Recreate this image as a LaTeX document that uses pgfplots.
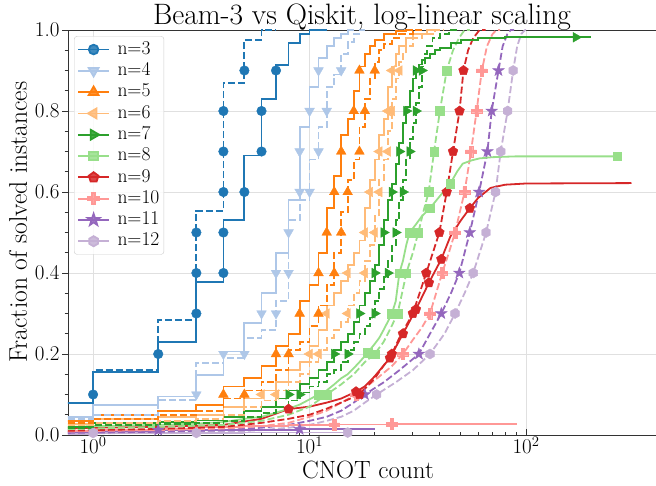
\documentclass[border=0pt]{standalone}
\usepackage{fontspec}
\usepackage{pgfplots}
\pgfplotsset{compat=1.18}
\usetikzlibrary{plotmarks}

\definecolor{c3}{HTML}{1F77B4}
\definecolor{c4}{HTML}{AEC7E8}
\definecolor{c5}{HTML}{FF7F0E}
\definecolor{c6}{HTML}{FFBB78}
\definecolor{c7}{HTML}{2CA02C}
\definecolor{c8}{HTML}{98DF8A}
\definecolor{c9}{HTML}{D62728}
\definecolor{c10}{HTML}{FF9896}
\definecolor{c11}{HTML}{9467BD}
\definecolor{c12}{HTML}{C5B0D5}

\pgfdeclareplotmark{hexa}{%
  \pgfpathmoveto{\pgfpointpolar{90}{1.05\pgfplotmarksize}}%
  \pgfpathlineto{\pgfpointpolar{150}{1.05\pgfplotmarksize}}%
  \pgfpathlineto{\pgfpointpolar{210}{1.05\pgfplotmarksize}}%
  \pgfpathlineto{\pgfpointpolar{270}{1.05\pgfplotmarksize}}%
  \pgfpathlineto{\pgfpointpolar{330}{1.05\pgfplotmarksize}}%
  \pgfpathlineto{\pgfpointpolar{30}{1.05\pgfplotmarksize}}%
  \pgfpathclose\pgfusepathqfillstroke}
\pgfdeclareplotmark{fstar}{%
  \pgfpathmoveto{\pgfpointpolar{90}{1.3\pgfplotmarksize}}%
  \pgfpathlineto{\pgfpointpolar{126}{0.52\pgfplotmarksize}}%
  \pgfpathlineto{\pgfpointpolar{162}{1.3\pgfplotmarksize}}%
  \pgfpathlineto{\pgfpointpolar{198}{0.52\pgfplotmarksize}}%
  \pgfpathlineto{\pgfpointpolar{234}{1.3\pgfplotmarksize}}%
  \pgfpathlineto{\pgfpointpolar{270}{0.52\pgfplotmarksize}}%
  \pgfpathlineto{\pgfpointpolar{306}{1.3\pgfplotmarksize}}%
  \pgfpathlineto{\pgfpointpolar{342}{0.52\pgfplotmarksize}}%
  \pgfpathlineto{\pgfpointpolar{18}{1.3\pgfplotmarksize}}%
  \pgfpathlineto{\pgfpointpolar{54}{0.52\pgfplotmarksize}}%
  \pgfpathclose\pgfusepathqfillstroke}
\pgfdeclareplotmark{fplus}{%
  \pgfpathmoveto{\pgfpoint{0.35\pgfplotmarksize}{1.1\pgfplotmarksize}}%
  \pgfpathlineto{\pgfpoint{-0.35\pgfplotmarksize}{1.1\pgfplotmarksize}}%
  \pgfpathlineto{\pgfpoint{-0.35\pgfplotmarksize}{0.35\pgfplotmarksize}}%
  \pgfpathlineto{\pgfpoint{-1.1\pgfplotmarksize}{0.35\pgfplotmarksize}}%
  \pgfpathlineto{\pgfpoint{-1.1\pgfplotmarksize}{-0.35\pgfplotmarksize}}%
  \pgfpathlineto{\pgfpoint{-0.35\pgfplotmarksize}{-0.35\pgfplotmarksize}}%
  \pgfpathlineto{\pgfpoint{-0.35\pgfplotmarksize}{-1.1\pgfplotmarksize}}%
  \pgfpathlineto{\pgfpoint{0.35\pgfplotmarksize}{-1.1\pgfplotmarksize}}%
  \pgfpathlineto{\pgfpoint{0.35\pgfplotmarksize}{-0.35\pgfplotmarksize}}%
  \pgfpathlineto{\pgfpoint{1.1\pgfplotmarksize}{-0.35\pgfplotmarksize}}%
  \pgfpathlineto{\pgfpoint{1.1\pgfplotmarksize}{0.35\pgfplotmarksize}}%
  \pgfpathlineto{\pgfpoint{0.35\pgfplotmarksize}{0.35\pgfplotmarksize}}%
  \pgfpathclose\pgfusepathqfillstroke}

\pgfplotsset{
  sol/.style={line width=1.8pt, forget plot},
  das/.style={line width=1.8pt, forget plot, dash pattern=on 7pt off 3pt},
  mk/.style={only marks, forget plot},
  m3/.style={mark=*, mark size=4.8pt},
  m4/.style={mark=triangle*, mark size=5.6pt, mark options={rotate=180}},
  m5/.style={mark=triangle*, mark size=5.6pt},
  m6/.style={mark=triangle*, mark size=5.6pt, mark options={rotate=90}},
  m7/.style={mark=triangle*, mark size=5.6pt, mark options={rotate=-90}},
  m8/.style={mark=square*, mark size=4.3pt},
  m9/.style={mark=pentagon*, mark size=5.1pt},
  m10/.style={mark=fplus, mark size=4.9pt},
  m11/.style={mark=fstar, mark size=4.7pt},
  m12/.style={mark=hexa, mark size=4.8pt},
}

\begin{document}
\begin{tikzpicture}
\begin{axis}[
  name=ax,
  scale only axis,
  width=590.1pt, height=405pt,
  xmode=log, xmin=0.766, xmax=407.4,
  ymin=0, ymax=1,
  xtick={1,10,100},
  xticklabels={10\textsuperscript{0},10\textsuperscript{1},10\textsuperscript{2}},
  ytick={0,0.2,0.4,0.6,0.8,1.0},
  minor y tick num=3,
  xtick align=inside, ytick align=outside,
  xtick pos=lower, ytick pos=left,
  major tick length=6pt, minor tick length=3.5pt,
  every tick/.style={black!80, line width=0.8pt},
  axis line style={black!80, line width=0.9pt},
  grid=major,
  major grid style={draw=black!12, line width=0.9pt},
  /pgf/number format/assume math mode=true,
  yticklabel={\pgfmathprintnumber[fixed,fixed zerofill,precision=1]{\tick}},
  tick label style={font=\fontsize{21}{24}\selectfont},
  xticklabel style={yshift=2pt},
  yticklabel style={xshift=1pt},
  legend style={at={(0.0102,0.985)}, anchor=north west, draw=black!20,
    rounded corners=3pt, fill=white, fill opacity=0.85, text opacity=1,
    font=\fontsize{19.5}{22}\selectfont, inner sep=3pt, row sep=0.8pt,
    nodes={inner sep=1.5pt, text height=13.5pt, text depth=4pt},
    /tikz/every odd column/.append style={column sep=6pt}},
  legend cell align=left,
  legend image code/.code={\draw[mark repeat=2,mark phase=2,#1] plot coordinates {(0pt,0pt)(15.5pt,0pt)(31pt,0pt)};},
]
\addlegendimage{c3, line width=1.8pt, m3}\addlegendentry{n=3}
\addlegendimage{c4, line width=1.8pt, m4}\addlegendentry{n=4}
\addlegendimage{c5, line width=1.8pt, m5}\addlegendentry{n=5}
\addlegendimage{c6, line width=1.8pt, m6}\addlegendentry{n=6}
\addlegendimage{c7, line width=1.8pt, m7}\addlegendentry{n=7}
\addlegendimage{c8, line width=1.8pt, m8}\addlegendentry{n=8}
\addlegendimage{c9, line width=1.8pt, m9}\addlegendentry{n=9}
\addlegendimage{c10, line width=1.8pt, m10}\addlegendentry{n=10}
\addlegendimage{c11, line width=1.8pt, m11}\addlegendentry{n=11}
\addlegendimage{c12, line width=1.8pt, m12}\addlegendentry{n=12}

% ---------- n = 12 ----------
\addplot[c12, sol, const plot] coordinates {(0.5,0.003)(1,0.005)(3,0.005)(5,0.006)(10,0.006)(15,0.006)};
\addplot[c12, das] coordinates {(0.5,0.003)(1,0.004)(2,0.006)(4,0.008)(6,0.012)(8,0.018)(10,0.025)(12,0.035)(14,0.045)(16,0.06)(18,0.08)(20.4,0.1)(25,0.13)(30,0.16)(36,0.2)(42,0.25)(47,0.3)(52,0.35)(57,0.4)(65.4,0.5)(72.3,0.6)(76.4,0.7)(82.2,0.8)(87.2,0.9)(91,0.96)(95,0.99)(99,1.0)(103,1.0)};
\addplot[c12, mk, m12] coordinates {(1,0.005)(3,0.005)(15,0.006)(20.4,0.1)(36,0.2)(47,0.3)(57,0.4)(65.4,0.5)(72.3,0.6)(76.4,0.7)(82.2,0.8)(87.2,0.9)};

% ---------- n = 11 ----------
\addplot[c11, sol, const plot] coordinates {(0.5,0.008)(1,0.01)(2,0.012)(5,0.013)(9,0.014)(20,0.014)};
\addplot[c11, das] coordinates {(0.5,0.004)(1,0.006)(2,0.008)(4,0.012)(6,0.018)(8,0.025)(10,0.035)(12,0.045)(14,0.06)(16,0.08)(18,0.1)(22,0.13)(26,0.16)(32,0.2)(36,0.25)(40.6,0.3)(45,0.35)(49.2,0.4)(55,0.5)(60.7,0.6)(66.3,0.7)(69.4,0.8)(74.6,0.9)(78,0.96)(82,0.99)(85,1.0)(88,1.0)};
\addplot[c11, mk, m11] coordinates {(2,0.012)(9,0.014)(18,0.1)(32,0.2)(40.6,0.3)(49.2,0.4)(55,0.5)(60.7,0.6)(66.3,0.7)(69.4,0.8)(74.6,0.9)};

% ---------- n = 10 ----------
\addplot[c10, sol, const plot] coordinates {(0.5,0.01)(1,0.012)(2,0.015)(3,0.02)(5,0.022)(8,0.025)(13,0.026)(24,0.027)(50,0.028)(90,0.029)};
\addplot[c10, das] coordinates {(0.5,0.006)(1,0.01)(2,0.012)(4,0.016)(6,0.022)(8,0.03)(10,0.045)(12,0.06)(14,0.08)(16.4,0.1)(20,0.135)(24,0.17)(27,0.2)(30,0.235)(33,0.265)(36,0.3)(41,0.4)(44,0.45)(47,0.5)(52,0.6)(55.7,0.7)(59.1,0.8)(62.5,0.9)(66,0.96)(70,0.99)(73,1.0)(76,1.0)};
\addplot[c10, mk, m10] coordinates {(13,0.026)(24,0.027)(16.4,0.1)(27,0.2)(36,0.3)(41,0.4)(47,0.5)(52,0.6)(55.7,0.7)(59.1,0.8)(62.5,0.9)};

% ---------- n = 9 ----------
\addplot[c9, sol] coordinates {(0.5,0.012)(1,0.018)(2,0.02)(4,0.025)(6,0.04)(8,0.064)(10,0.07)(12,0.08)(14,0.09)(16.4,0.107)(18,0.12)(20,0.145)(23.5,0.19)(27,0.25)(31,0.31)(35.6,0.376)(40.6,0.434)(44.7,0.49)(50,0.53)(55,0.56)(60,0.585)(68.5,0.61)(80,0.618)(100,0.621)(307,0.622)};
\addplot[c9, das] coordinates {(0.5,0.008)(1,0.012)(2,0.015)(4,0.02)(6,0.03)(8,0.04)(10,0.05)(12,0.065)(14,0.08)(17,0.1)(20,0.14)(24,0.2)(26,0.24)(30,0.3)(34.6,0.4)(39.8,0.5)(43,0.6)(46,0.7)(49.3,0.8)(51.4,0.9)(54,0.95)(57,0.98)(61,1.0)(65,1.0)};
\addplot[c9, mk, m9] coordinates {(8,0.064)(16.4,0.107)(23.5,0.19)(27,0.25)(31,0.31)(35.6,0.376)(40.6,0.434)(55,0.56)(17,0.1)(24,0.2)(30,0.3)(34.6,0.4)(39.8,0.5)(43,0.6)(46,0.7)(49.3,0.8)(51.4,0.9)};

% ---------- n = 8 ----------
\addplot[c8, sol] coordinates {(0.5,0.015)(1,0.022)(2,0.025)(3,0.028)(4,0.032)(5,0.04)(6,0.045)(7,0.055)(8,0.065)(9,0.075)(10,0.088)(11,0.1)(12,0.11)(13,0.125)(14,0.14)(15,0.15)(16,0.165)(17,0.18)(18,0.195)(19,0.21)(20,0.225)(21,0.24)(22,0.26)(23,0.28)(24,0.3)(25,0.33)(26,0.4)(27,0.43)(28,0.47)(29,0.5)(31,0.52)(33,0.54)(36,0.56)(40,0.59)(44.6,0.62)(48,0.65)(51,0.67)(56,0.678)(61,0.683)(70,0.686)(90,0.688)(270,0.688)};
\addplot[c8, das] coordinates {(0.5,0.012)(1,0.016)(2,0.02)(4,0.025)(6,0.035)(8,0.05)(10,0.07)(12,0.1)(14,0.125)(16,0.15)(18,0.18)(20,0.2)(22,0.23)(24,0.27)(25.5,0.3)(27,0.36)(28,0.4)(30,0.45)(31.8,0.5)(33.5,0.55)(35.5,0.6)(37.6,0.7)(40,0.8)(43,0.9)(46,0.95)(49,0.98)(52,1.0)(55,1.0)};
\addplot[c8, mk, m8] coordinates {(11,0.1)(18.6,0.203)(24,0.3)(26,0.4)(29,0.5)(36,0.56)(44.6,0.62)(264,0.688)(12,0.1)(20,0.2)(25.5,0.3)(28,0.4)(31.8,0.5)(35.5,0.6)(37.6,0.7)(40,0.8)(43,0.9)};

% ---------- n = 7 ----------
\addplot[c7, sol, const plot] coordinates {(0.5,0.02)(1,0.03)(2,0.033)(3,0.036)(4,0.045)(5,0.06)(6,0.07)(7,0.09)(8,0.11)(9,0.125)(10,0.14)(11,0.16)(12,0.18)(13,0.21)(14,0.23)(15,0.25)(16,0.28)(17,0.32)(18,0.35)(19,0.38)(20,0.42)(21,0.47)(22,0.53)(23,0.58)(24,0.62)(25,0.67)(26,0.72)(27,0.77)(28,0.81)(29,0.85)(30,0.88)(31,0.905)(32,0.915)(33,0.925)(34,0.93)(36,0.94)(38,0.95)(40,0.955)(45,0.968)(50,0.975)(60,0.98)(80,0.982)(200,0.982)};
\addplot[c7, das, const plot] coordinates {(0.5,0.018)(1,0.025)(2,0.028)(3,0.03)(4,0.035)(5,0.045)(6,0.055)(7,0.07)(8,0.085)(9,0.105)(10,0.12)(11,0.13)(12,0.15)(13,0.16)(14,0.18)(15,0.21)(16,0.23)(17,0.25)(18,0.27)(19,0.29)(20,0.33)(21,0.36)(22,0.39)(23,0.43)(24,0.47)(25,0.53)(26,0.58)(27,0.63)(28,0.68)(29,0.73)(30,0.77)(31,0.82)(32,0.86)(33,0.91)(34,0.94)(35,0.96)(37,0.98)(40,0.99)(44,1.0)(48,1.0)};
\addplot[c7, mk, m7] coordinates {(8,0.1)(13,0.2)(17,0.3)(20,0.4)(22,0.5)(24,0.6)(26,0.7)(28,0.8)(31,0.9)(170,0.982)(9,0.1)(15,0.2)(20,0.3)(23,0.4)(25,0.5)(27,0.6)(29,0.7)(31,0.8)(33,0.9)};

% ---------- n = 6 ----------
\addplot[c6, sol, const plot] coordinates {(0.5,0.028)(1,0.04)(2,0.045)(3,0.05)(4,0.07)(5,0.09)(6,0.11)(7,0.13)(8,0.16)(9,0.18)(10,0.22)(11,0.26)(12,0.32)(13,0.35)(14,0.38)(15,0.42)(16,0.45)(17,0.48)(18,0.56)(19,0.63)(20,0.68)(21,0.74)(22,0.78)(23,0.86)(24,0.91)(25,0.94)(26,0.96)(28,0.98)(30,0.99)(35,1.0)(38,1.0)};
\addplot[c6, das, const plot] coordinates {(0.5,0.025)(1,0.03)(2,0.035)(3,0.04)(4,0.05)(5,0.07)(6,0.085)(7,0.11)(8,0.13)(9,0.15)(10,0.18)(11,0.21)(12,0.24)(13,0.26)(14,0.28)(15,0.32)(16,0.35)(17,0.38)(18,0.43)(19,0.47)(20,0.54)(21,0.63)(22,0.68)(23,0.75)(24,0.83)(25,0.88)(26,0.92)(27,0.94)(28,0.96)(30,0.98)(33,0.99)(38,1.0)(42,1.0)};
\addplot[c6, mk, m6] coordinates {(6,0.1)(10,0.2)(12,0.3)(15,0.4)(18,0.5)(19,0.6)(21,0.7)(23,0.8)(24,0.9)(7,0.1)(11,0.2)(15,0.3)(18,0.4)(20,0.5)(21,0.6)(23,0.7)(24,0.8)(26,0.9)};

% ---------- n = 5 ----------
\addplot[c5, sol, const plot] coordinates {(0.5,0.035)(1,0.05)(2,0.06)(3,0.075)(4,0.12)(5,0.14)(6,0.17)(7,0.22)(8,0.25)(9,0.33)(10,0.37)(11,0.45)(12,0.56)(13,0.64)(14,0.74)(15,0.78)(16,0.85)(17,0.91)(18,0.94)(19,0.96)(20,0.975)(22,0.99)(25,0.997)(28,1.0)(30,1.0)};
\addplot[c5, das, const plot] coordinates {(0.5,0.03)(1,0.04)(2,0.05)(3,0.06)(4,0.09)(5,0.11)(6,0.13)(7,0.16)(8,0.21)(9,0.23)(10,0.27)(11,0.32)(12,0.37)(13,0.45)(14,0.55)(15,0.63)(16,0.68)(17,0.76)(18,0.83)(19,0.88)(20,0.92)(21,0.95)(22,0.965)(24,0.98)(26,0.99)(30,1.0)(33,1.0)};
\addplot[c5, mk, m5] coordinates {(4,0.1)(7,0.2)(9,0.3)(11,0.4)(12,0.5)(13,0.6)(14,0.7)(16,0.8)(17,0.9)(5,0.1)(8,0.2)(11,0.3)(13,0.4)(14,0.5)(15,0.6)(17,0.7)(18,0.8)(20,0.9)};

% ---------- n = 4 ----------
\addplot[c4, sol, const plot] coordinates {(0.5,0.045)(1,0.074)(2,0.095)(3,0.148)(4,0.206)(5,0.277)(6,0.35)(7,0.45)(8,0.58)(9,0.76)(10,0.86)(11,0.93)(12,0.96)(13,0.98)(14,0.99)(15,1.0)(16,1.0)};
\addplot[c4, das, const plot] coordinates {(0.5,0.04)(1,0.05)(2,0.086)(3,0.178)(4,0.19)(5,0.24)(6,0.26)(7,0.33)(8,0.53)(9,0.58)(10,0.68)(11,0.76)(12,0.86)(13,0.89)(14,0.94)(15,0.97)(16,0.99)(17,1.0)(18,1.0)};
\addplot[c4, mk, m4] coordinates {(3,0.1)(4,0.2)(6,0.3)(7,0.4)(8,0.5)(9,0.6)(9,0.7)(10,0.8)(11,0.9)(5,0.2)(7,0.3)(8,0.4)(10,0.6)(11,0.7)(12,0.8)(14,0.9)};

% ---------- n = 3 ----------
\addplot[c3, sol, const plot] coordinates {(0.5,0.08)(1,0.155)(2,0.23)(3,0.378)(4,0.53)(5,0.69)(6,0.83)(7,0.914)(8,0.968)(9,0.99)(10,1.0)(12,1.0)};
\addplot[c3, das, const plot] coordinates {(0.5,0.08)(1,0.16)(2,0.284)(3,0.554)(4,0.869)(5,0.976)(6,1.0)(7,1.0)};
\addplot[c3, mk, m3] coordinates {(1,0.1)(2,0.2)(3,0.3)(3,0.4)(3,0.5)(4,0.4)(4,0.5)(4,0.6)(4,0.7)(4,0.8)(5,0.6)(5,0.9)(6,0.7)(6,0.8)(7,0.9)};
\end{axis}
\node[anchor=base, font=\fontsize{29.5}{33}\selectfont] at ([shift={(294pt,410pt)}]ax.south west) {Beam-3 vs Qiskit, log-linear scaling};
\node[anchor=base, font=\fontsize{25}{29}\selectfont] at ([shift={(300pt,-43pt)}]ax.south west) {CNOT count};
\node[rotate=90, font=\fontsize{25.5}{29}\selectfont] at ([shift={(-50pt,213pt)}]ax.south west) {Fraction of solved instances};
\pgfresetboundingbox
\path[use as bounding box] ([shift={(-68pt,-50pt)}]ax.south west) rectangle ([shift={(588pt,435pt)}]ax.south west);
\end{tikzpicture}
\end{document}
